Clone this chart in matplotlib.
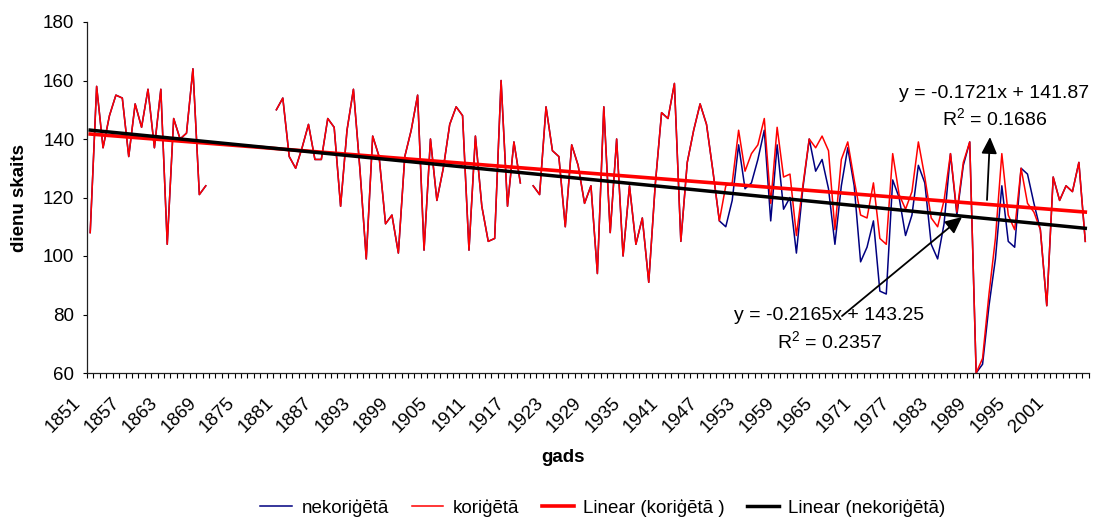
import numpy as np
import matplotlib
matplotlib.use("Agg")
import matplotlib.pyplot as plt
from matplotlib.transforms import ScaledTranslation

plt.rcParams['font.family'] = ['Liberation Sans', 'DejaVu Sans']
plt.rcParams['mathtext.fontset'] = 'custom'
plt.rcParams['mathtext.rm'] = 'Liberation Sans'

nan = np.nan

# years of observation
years = np.arange(1851, 2007)

# corrected series (koriģētā)
korigeta = [
    108, 158, 137, 148, 155, 154, 134, 152, 144, 157,
    137, 157, 104, 147, 140, 142, 164, 121, 124, nan,
    nan, nan, nan, nan, nan, nan, nan, nan, nan, 150,
    154, 134, 130, 137, 145, 133, 133, 147, 144, 117,
    143, 157, 130, 99, 141, 134, 111, 114, 101, 134,
    143, 155, 102, 140, 119, 130, 145, 151, 148, 102,
    141, 117, 105, 106, 160, 117, 139, 125, nan, 124,
    121, 151, 136, 134, 110, 138, 131, 118, 124, 94,
    151, 108, 140, 100, 124, 104, 113, 91, 124, 149,
    147, 159, 105, 132, 143, 152, 145, 129, 112, 124,
    125, 143, 129, 135, 138, 147, 118, 144, 127, 128,
    107, 124, 140, 137, 141, 136, 109, 133, 139, 126,
    114, 113, 125, 106, 104, 135, 121, 116, 122, 139,
    127, 113, 110, 119, 135, 115, 132, 139, 60, 65,
    87, 106, 135, 114, 109, 130, 118, 115, 109, 83,
    127, 119, 124, 122, 132, 105,
]

# uncorrected series (nekoriģētā)
nekorigeta = [
    108, 158, 137, 148, 155, 154, 134, 152, 144, 157,
    137, 157, 104, 147, 140, 142, 164, 121, 124, nan,
    nan, nan, nan, nan, nan, nan, nan, nan, nan, 150,
    154, 134, 130, 137, 145, 133, 133, 147, 144, 117,
    143, 157, 130, 99, 141, 134, 111, 114, 101, 134,
    143, 155, 102, 140, 119, 130, 145, 151, 148, 102,
    141, 117, 105, 106, 160, 117, 139, 125, nan, 124,
    121, 151, 136, 134, 110, 138, 131, 118, 124, 94,
    151, 108, 140, 100, 124, 104, 113, 91, 124, 149,
    147, 159, 105, 132, 143, 152, 145, 129, 112, 110,
    119, 138, 123, 125, 133, 143, 112, 138, 116, 120,
    101, 123, 140, 129, 133, 123, 104, 124, 137, 124,
    98, 103, 112, 88, 87, 126, 120, 107, 114, 131,
    125, 104, 99, 111, 135, 114, 131, 139, 60, 63,
    83, 99, 124, 105, 103, 130, 128, 118, 109, 83,
    127, 119, 124, 122, 132, 105,
]

# linear trend coefficients (x = 1..N)
trend_kor = (-0.1721, 141.87, 0.1686)
trend_nekor = (-0.2165, 143.25, 0.2357)

yticks = [60, 80, 100, 120, 140, 160, 180]

W, H = 1098, 521
fig = plt.figure(figsize=(W / 100, H / 100), dpi=100)
ax = fig.add_axes([87 / W, (H - 373) / H, 1001.5 / W, 351 / H])

x = np.arange(len(years))
ax.plot(x, nekorigeta, color='#000080', lw=1.1, label='nekoriģētā')
ax.plot(x, korigeta, color='#ff0000', lw=1.1, label='koriģētā')

xt = x + 1
ax.plot(x, trend_kor[0] * xt + trend_kor[1], color='#ff0000', lw=2.6,
        label='Linear (koriģētā )')
ax.plot(x, trend_nekor[0] * xt + trend_nekor[1], color='black', lw=2.5,
        label='Linear (nekoriģētā)')

ax.set_xlim(-0.5, len(years) - 0.5)
ax.set_ylim(60, 180)
ax.set_yticks(yticks)
ax.tick_params(axis='y', direction='out', length=3, width=0.8, pad=6,
               labelsize=13.5)

# labels every 6 years, tick marks between categories
lab_idx = np.arange(0, len(years), 6)
ax.set_xticks(lab_idx)
ax.set_xticklabels([str(years[i]) for i in lab_idx], rotation=45,
                   ha='right', va='center', rotation_mode='anchor')
ax.set_xticks(np.arange(len(years) + 1) - 0.5, minor=True)
ax.tick_params(axis='x', which='major', length=0, pad=0, labelsize=13.5)
ax.tick_params(axis='x', which='minor', direction='out', length=3.5,
               width=0.8)
off = ScaledTranslation(-12 / 100, -27 / 100, fig.dpi_scale_trans)
for lbl in ax.get_xticklabels():
    lbl.set_transform(lbl.get_transform() + off)

for s in ['top', 'right']:
    ax.spines[s].set_visible(False)
for s in ['left', 'bottom']:
    ax.spines[s].set_linewidth(0.9)
    ax.spines[s].set_color('#202020')

fig.text(20 / W, 1 - 198 / H, 'dienu skaits', rotation=90, ha='center',
         va='center', fontsize=13.5, fontweight='bold')
fig.text(563 / W, 1 - 458 / H, 'gads', ha='center', va='center',
         fontsize=13.5, fontweight='bold')

# trend equations with arrows
def fx(px):
    return px / W

def fy(py):
    return 1 - py / H

fig.text(fx(994), fy(93), 'y = %.4fx + %.2f' % trend_kor[:2],
         ha='center', va='center', fontsize=14)
fig.text(fx(995), fy(119), 'R$^2$ = %.4f' % trend_kor[2],
         ha='center', va='center', fontsize=14)
fig.text(fx(829), fy(315), 'y = %.4fx + %.2f' % trend_nekor[:2],
         ha='center', va='center', fontsize=14)
fig.text(fx(829), fy(342), 'R$^2$ = %.4f' % trend_nekor[2],
         ha='center', va='center', fontsize=14)

arrow = dict(arrowstyle='-|>,head_length=1.0,head_width=0.47',
             mutation_scale=10, color='black', lw=1.3,
             shrinkA=0, shrinkB=0)
ax.annotate('', xy=(fx(990), fy(137)), xycoords='figure fraction',
            xytext=(fx(987), fy(200)), textcoords='figure fraction',
            arrowprops=arrow)
ax.annotate('', xy=(fx(962), fy(217)), xycoords='figure fraction',
            xytext=(fx(842), fy(316)), textcoords='figure fraction',
            arrowprops=arrow)

fig.legend(loc='center', bbox_to_anchor=(603 / W, 1 - 508 / H), ncol=4,
           frameon=False, fontsize=13.5, handlelength=1.7,
           handletextpad=0.5, columnspacing=1.2)

fig.savefig('out.png', dpi=100)
